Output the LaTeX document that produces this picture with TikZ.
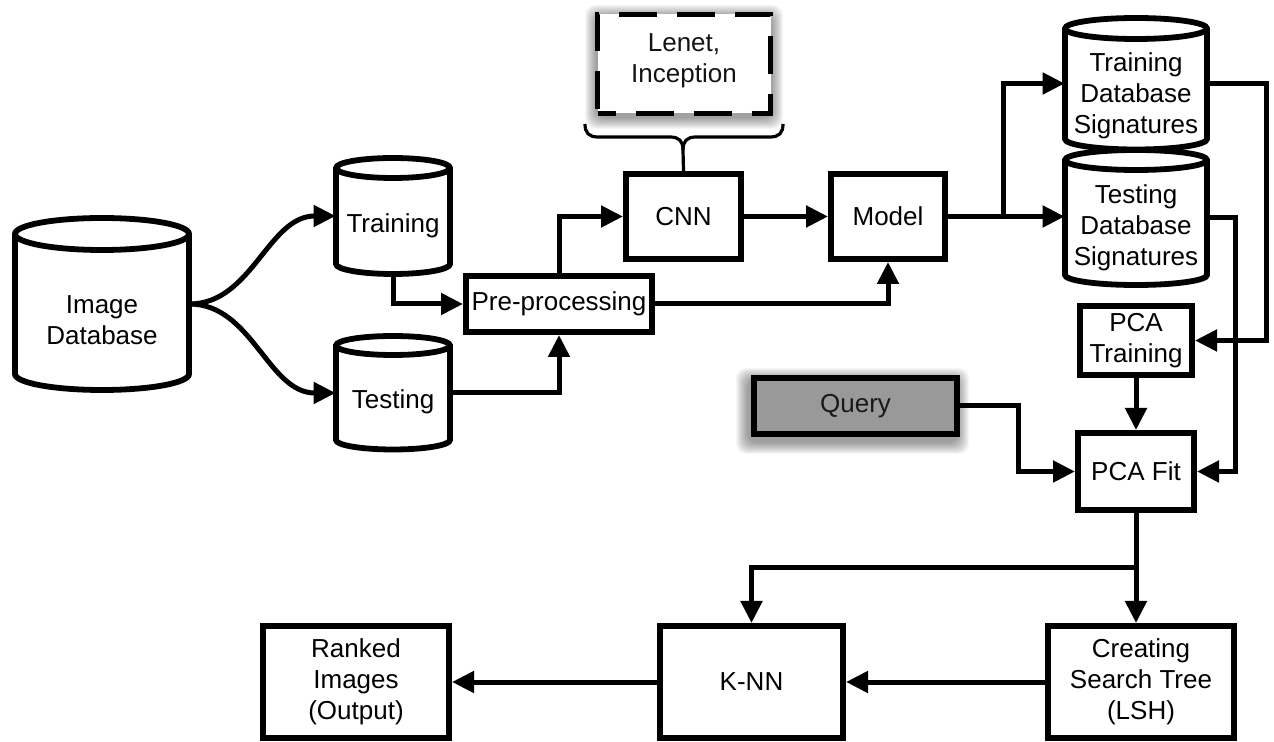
\documentclass[tikz,border=0pt]{standalone}
\usepackage{fontspec}
\setmainfont{Liberation Sans}
\usetikzlibrary{arrows.meta,calc}
\newcommand\txtfont{\fontsize{13}{15.5}\selectfont}
% cylinder outline: x1, x2, y of top ellipse centre, y of bottom ellipse centre, ry
\newcommand\cylshape[5]{%
  \pgfmathsetmacro\cylrx{(#2-#1)/2}%
  \draw[boxl, fill=white] (#1,#3) -- (#1,#4)
     arc[start angle=180, end angle=0, x radius=\cylrx, y radius=#5]
     -- (#2,#3)
     arc[start angle=0, end angle=-180, x radius=\cylrx, y radius=#5] -- cycle;
  \draw[boxl] (#1,#3) arc[start angle=180, end angle=0, x radius=\cylrx, y radius=#5];
}
% soft shadow: x1 y1 x2 y2 (outer box), dx dy (offset)
\newcommand\softshadow[6]{%
  \foreach \i in {1,...,12}{%
    \fill[black, opacity=0.035, rounded corners=5pt]
      (#1+#5-\i, #2+#6-\i) rectangle (#3+#5+\i, #4+#6+\i);
  }%
}
\tikzset{
  boxl/.style={line width=2.9pt, draw=black, line join=miter},
  box/.style={boxl, fill=white, inner sep=0pt, align=center, font=\txtfont, text=black},
  txt/.style={inner sep=0pt, align=center, font=\txtfont, text=black},
  anchornode/.style={draw=none, inner sep=0pt},
  ln/.style={line width=2.5pt, draw=black},
  arr/.style={ln, -{Triangle[length=11pt,width=10.5pt]}},
}
\begin{document}
\begin{tikzpicture}[x=0.5pt, y=-0.5pt]
\useasboundingbox[fill=white] (0,0) rectangle (1274,742);

% ---------- cylinders ----------
\cylshape{15}{189}{234}{374}{16}
\node[anchornode, minimum width=87pt, minimum height=86pt] (imgdb) at (102,304) {};
\node[txt] (imgdbtxt) at (102,320) {Image\\Database};

\cylshape{336}{450}{168}{264}{10}
\node[anchornode, minimum width=57pt, minimum height=58pt] (train) at (393,216) {};
\node[txt] (traintxt) at (393,226) {Training};

\cylshape{336}{450}{345.5}{440}{9.5}
\node[anchornode, minimum width=57pt, minimum height=57pt] (test) at (393,393) {};
\node[txt] (testtxt) at (393,402) {Testing};

\cylshape{1065}{1207}{160}{275}{10}
\node[anchornode, minimum width=71pt, minimum height=67.5pt] (tsig) at (1136,217.5) {};
\node[txt] (tsigtxt) at (1136,227.5) {Testing\\Database\\Signatures};

\cylshape{1065}{1207}{28.5}{139}{10.5}
\node[anchornode, minimum width=71pt, minimum height=65.5pt] (trsig) at (1136,83.5) {};
\node[txt] (trsigtxt) at (1136,96) {Training\\Database\\Signatures};

% ---------- boxes ----------
\node[box, minimum width=93.1pt, minimum height=28.1pt] (pre) at (559,304) {Pre-processing};
\node[box, minimum width=57.6pt, minimum height=42.6pt] (cnn) at (683.5,216.5) {CNN};
\node[box, minimum width=57.1pt, minimum height=42.6pt] (model) at (888,216.5) {Model};
\node[box, minimum width=56.1pt, minimum height=34.6pt] (pcatr) at (1136,340.5) {PCA\\Training};
\node[box, minimum width=58.1pt, minimum height=38.6pt] (pcafit) at (1136,471.5) {PCA Fit};

\softshadow{751}{375}{960}{437}{-3}{5}
\node[box, fill={rgb,255:red,153;green,153;blue,153}, line width=3.2pt, text={rgb,255:red,25;green,25;blue,25},
      minimum width=101.4pt, minimum height=27.9pt]
      (query) at (855.5,406) {Query};
\node[box, minimum width=93.1pt, minimum height=56.1pt] (ranked) at (356,682) {Ranked\\Images\\(Output)};
\node[box, minimum width=91.6pt, minimum height=56.1pt] (knn) at (751.5,682) {K-NN};
\node[box, minimum width=93.1pt, minimum height=56.1pt] (create) at (1141,682) {Creating\\Search Tree\\(LSH)};

% dashed annotation
\softshadow{597}{14}{771}{114}{0}{3}
\node[box, line width=2.6pt, dash pattern=on 19pt off 10pt, dash phase=10pt,
      minimum width=86.5pt, minimum height=49.5pt] (lenet) at (684,64) {};
\node[txt, text={rgb,255:red,20;green,20;blue,20}] (lenettxt) at (684,61) {Lenet,\\Inception};
% brace
\draw[line width=1.6pt] (585,124) .. controls (585,133) and (589,137) .. (598,137) -- (670,137)
   .. controls (679,137) and (683,141) .. (683,150) -- (cnn.north);
\draw[line width=1.6pt] (783,124) .. controls (783,133) and (779,137) .. (770,137) -- (696,137)
   .. controls (687,137) and (683,141) .. (683,150);

% ---------- connectors ----------
\draw[arr] (imgdb.east) .. controls (252,304) and (268,216) .. (train.west);
\draw[arr] (imgdb.east) .. controls (252,304) and (268,393) .. (test.west);
\draw[arr] (train.south) |- (pre.west);
\draw[arr] (test.east) -| (pre.south);
\draw[arr] (pre.north) |- (cnn.west);
\draw[arr] (pre.east) -| (model.south);
\draw[arr] (cnn.east) -- (model.west);

\coordinate (split) at ($(model.east)+(55,0)$);
\draw[arr] (model.east) -- (model.east -| tsig.west);
\draw[arr] (split) |- (trsig.west);

\draw[arr] (trsig.east) -- ++(59,0) |- (pcatr.east);
\draw[arr] (tsig.east) -- ++(28,0) |- (pcafit.east);
\draw[arr] (pcatr.south) -- (pcafit.north);
\draw[arr] (query.east) -- ++(58,0) |- (pcafit.west);

\coordinate (branch) at (1136,568);
\draw[arr] (pcafit.south) -- (pcafit.south |- create.north);
\draw[arr] (branch) -| (knn.north);
\draw[arr] (create.west) -- (knn.east);
\draw[arr] (knn.west) -- (ranked.east);
\end{tikzpicture}
\end{document}
